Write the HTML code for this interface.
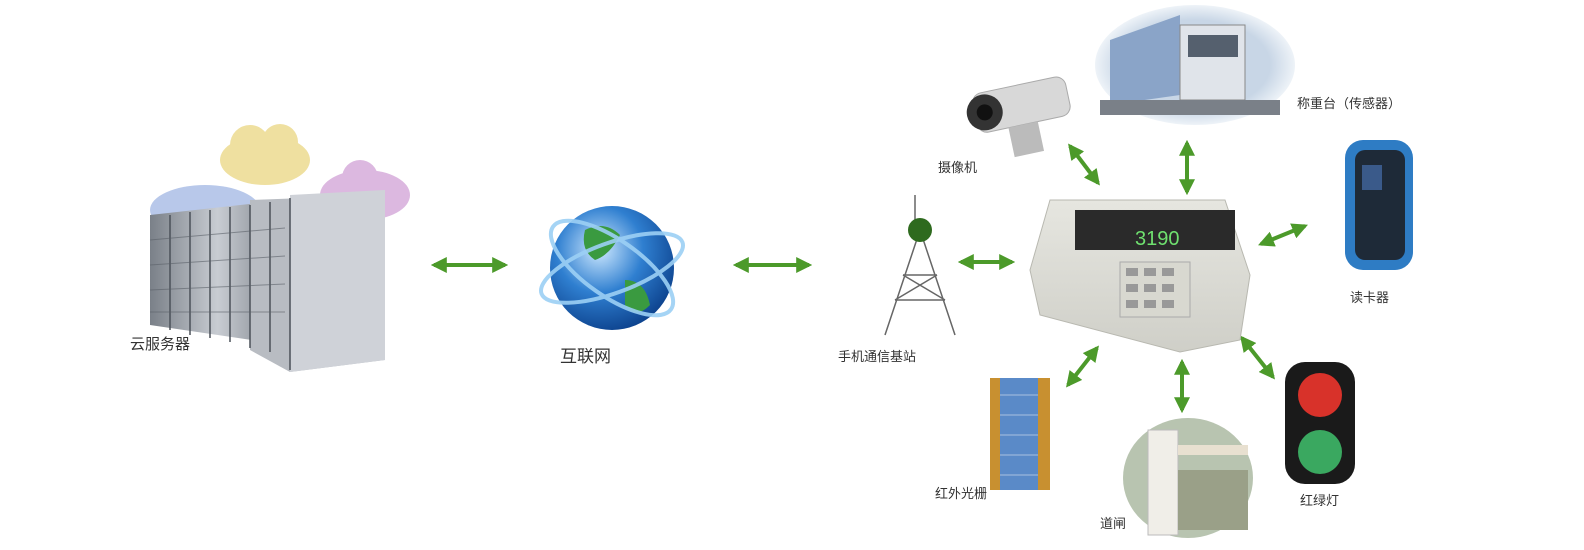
<!DOCTYPE html>
<html><head><meta charset="utf-8"><style>
html,body{margin:0;padding:0;background:#fff;}
svg{display:block;}
text{font-family:"Liberation Sans","Noto Sans CJK SC",sans-serif;fill:#333;}
</style></head><body>
<svg width="1584" height="550" viewBox="0 0 1584 550" xmlns="http://www.w3.org/2000/svg">
<defs>
<marker id="ah" viewBox="0 0 10 10" refX="8" refY="5" markerWidth="4" markerHeight="4" orient="auto-start-reverse"><path d="M0,0 L10,5 L0,10 z" fill="#4c9a2a"/></marker>
<linearGradient id="rack" x1="0" x2="1"><stop offset="0" stop-color="#7a8088"/><stop offset="0.5" stop-color="#c8ccd2"/><stop offset="1" stop-color="#7a8088"/></linearGradient>
<radialGradient id="globe" cx="0.4" cy="0.35" r="0.7"><stop offset="0" stop-color="#cfe9ff"/><stop offset="0.5" stop-color="#2f7fd0"/><stop offset="1" stop-color="#0b3f8a"/></radialGradient>
<radialGradient id="ell" cx="0.5" cy="0.5" r="0.5"><stop offset="0.75" stop-color="#c8d6e6"/><stop offset="1" stop-color="#eef3f8"/></radialGradient>
<linearGradient id="box" x1="0" y1="0" x2="0" y2="1"><stop offset="0" stop-color="#e6e6e0"/><stop offset="1" stop-color="#cfcfc8"/></linearGradient>
</defs>

<!-- clouds -->
<g fill="#efe0a0"><ellipse cx="265" cy="160" rx="45" ry="25"/><circle cx="250" cy="145" r="20"/><circle cx="280" cy="142" r="18"/></g>
<g fill="#dcb8e0"><ellipse cx="365" cy="195" rx="45" ry="25"/><circle cx="360" cy="178" r="18"/></g>
<g fill="#b8c8ea"><ellipse cx="205" cy="210" rx="55" ry="25"/></g>
<!-- servers -->
<polygon points="150,215 285,200 285,345 150,325" fill="url(#rack)"/>
<polygon points="250,200 385,195 385,360 290,372 250,350" fill="#b8bcc2"/>
<polygon points="290,195 385,190 385,360 290,372" fill="#cfd2d8"/>
<g stroke="#4a5058" stroke-width="1.5">
<line x1="170" y1="215" x2="170" y2="330"/><line x1="190" y1="212" x2="190" y2="335"/><line x1="210" y1="210" x2="210" y2="338"/><line x1="230" y1="207" x2="230" y2="342"/><line x1="250" y1="205" x2="250" y2="348"/><line x1="270" y1="202" x2="270" y2="352"/><line x1="290" y1="198" x2="290" y2="370"/>
</g>
<g stroke="#5a6068" stroke-width="1" opacity="0.6">
<line x1="150" y1="240" x2="285" y2="228"/><line x1="150" y1="265" x2="285" y2="256"/><line x1="150" y1="290" x2="285" y2="284"/><line x1="150" y1="312" x2="285" y2="312"/>
</g>
<text x="130" y="349" font-size="15">云服务器</text>

<!-- arrows -->
<g stroke="#4c9a2a" stroke-width="4" marker-start="url(#ah)" marker-end="url(#ah)" fill="none">
<line x1="434" y1="265" x2="505" y2="265"/>
<line x1="736" y1="265" x2="809" y2="265"/>
<line x1="961" y1="262" x2="1012" y2="262"/>
<line x1="1070" y1="146" x2="1098" y2="183"/>
<line x1="1187" y1="143" x2="1187" y2="192"/>
<line x1="1261" y1="244" x2="1305" y2="226"/>
<line x1="1068" y1="385" x2="1097" y2="348"/>
<line x1="1182" y1="362" x2="1182" y2="410"/>
<line x1="1242" y1="338" x2="1273" y2="377"/>
</g>

<!-- globe -->
<circle cx="612" cy="268" r="62" fill="url(#globe)"/>
<path d="M585,230 q20,-10 35,5 q-10,20 -25,25 q-15,-10 -10,-30z M625,280 q20,0 25,25 q-15,15 -25,0z" fill="#3a9a40"/>
<g fill="none" stroke="#9cd0f5" stroke-width="4" opacity="0.9">
<ellipse cx="612" cy="268" rx="75" ry="25" transform="rotate(-20 612 268)"/>
<ellipse cx="612" cy="268" rx="72" ry="28" transform="rotate(35 612 268)"/>
</g>
<text x="560" y="362" font-size="17">互联网</text>

<!-- tower -->
<g stroke="#666" stroke-width="1.5" fill="none">
<line x1="920" y1="230" x2="885" y2="335"/><line x1="920" y1="230" x2="955" y2="335"/>
<line x1="895" y1="300" x2="945" y2="300"/><line x1="903" y1="275" x2="937" y2="275"/>
<line x1="895" y1="300" x2="937" y2="275"/><line x1="945" y1="300" x2="903" y2="275"/>
<line x1="915" y1="195" x2="915" y2="230"/>
</g>
<circle cx="920" cy="230" r="12" fill="#2e6a1e"/>
<text x="838" y="361" font-size="13">手机通信基站</text>

<!-- indicator -->
<polygon points="1050,200 1225,200 1250,275 1240,340 1180,352 1040,315 1030,270" fill="url(#box)" stroke="#b8b8b0"/>
<rect x="1075" y="210" width="160" height="40" fill="#2a2a2a"/>
<text x="1135" y="245" font-size="20" style="fill:#6fe06f">3190</text>
<rect x="1120" y="262" width="70" height="55" fill="#d8d8d0" stroke="#aaa"/>
<g fill="#999"><rect x="1126" y="268" width="12" height="8"/><rect x="1144" y="268" width="12" height="8"/><rect x="1162" y="268" width="12" height="8"/><rect x="1126" y="284" width="12" height="8"/><rect x="1144" y="284" width="12" height="8"/><rect x="1162" y="284" width="12" height="8"/><rect x="1126" y="300" width="12" height="8"/><rect x="1144" y="300" width="12" height="8"/><rect x="1162" y="300" width="12" height="8"/></g>

<!-- camera -->
<g transform="rotate(-12 1020 110)">
<rect x="975" y="85" width="95" height="40" rx="10" fill="#d8d8d8" stroke="#aaa"/>
<circle cx="985" cy="105" r="18" fill="#333"/><circle cx="985" cy="105" r="8" fill="#111"/>
<rect x="1005" y="125" width="30" height="30" fill="#bbb"/>
</g>
<text x="938" y="172" font-size="13">摄像机</text>

<!-- truck -->
<ellipse cx="1195" cy="65" rx="100" ry="60" fill="url(#ell)"/>
<polygon points="1110,40 1180,15 1180,95 1110,105" fill="#8aa4c8"/>
<rect x="1180" y="25" width="65" height="75" fill="#e0e4ea" stroke="#888"/>
<rect x="1188" y="35" width="50" height="22" fill="#55606e"/>
<rect x="1100" y="100" width="180" height="15" fill="#7a8088"/>
<text x="1297" y="108" font-size="13">称重台（传感器）</text>

<!-- card reader -->
<rect x="1345" y="140" width="68" height="130" rx="18" fill="#2e7cc4"/>
<rect x="1355" y="150" width="50" height="110" rx="10" fill="#1e2a38"/>
<rect x="1362" y="165" width="20" height="25" fill="#3a5a8a"/>
<text x="1350" y="302" font-size="13">读卡器</text>

<!-- infrared -->
<rect x="990" y="378" width="60" height="112" fill="#c89030"/>
<rect x="1000" y="378" width="38" height="112" fill="#5a8ac8"/>
<g stroke="#a8c0e0" stroke-width="1"><line x1="1000" y1="395" x2="1038" y2="395"/><line x1="1000" y1="415" x2="1038" y2="415"/><line x1="1000" y1="435" x2="1038" y2="435"/><line x1="1000" y1="455" x2="1038" y2="455"/><line x1="1000" y1="475" x2="1038" y2="475"/></g>
<text x="935" y="498" font-size="13">红外光栅</text>

<!-- barrier -->
<ellipse cx="1188" cy="478" rx="65" ry="60" fill="#b8c4b0"/>
<rect x="1148" y="430" width="30" height="105" fill="#f0eee8" stroke="#bbb"/>
<rect x="1178" y="445" width="70" height="10" fill="#e8e0d0"/>
<rect x="1178" y="470" width="70" height="60" fill="#9aa088"/>
<text x="1100" y="528" font-size="13">道闸</text>

<!-- traffic light -->
<rect x="1285" y="362" width="70" height="122" rx="20" fill="#1a1a1a"/>
<circle cx="1320" cy="395" r="22" fill="#d8322a"/>
<circle cx="1320" cy="452" r="22" fill="#3aa860"/>
<text x="1300" y="505" font-size="13">红绿灯</text>
</svg>
</body></html>
